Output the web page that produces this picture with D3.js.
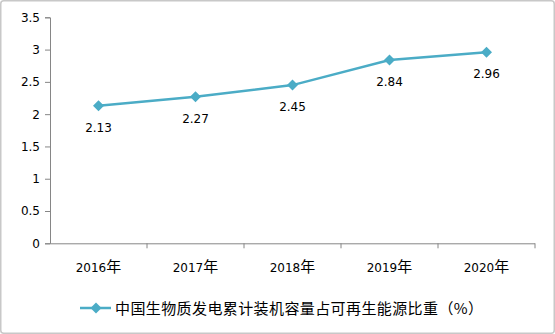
<!DOCTYPE html>
<html><head><meta charset="utf-8">
<script src="https://cdn.jsdelivr.net/npm/d3@7"></script>
<style>body{margin:0;background:#fff}svg{display:block}</style>
</head><body><svg width="555" height="334"></svg>
<script>
const categories = ["2016年","2017年","2018年","2019年","2020年"];
const values = [2.13,2.27,2.45,2.84,2.96];
const yTicks = [0,0.5,1,1.5,2,2.5,3,3.5];
const seriesName = "中国生物质发电累计装机容量占可再生能源比重（%）";

const svg = d3.select("svg");
const numFont = "'DejaVu Sans', sans-serif";
const cjkFont = "'Noto Sans CJK SC', sans-serif";
const color = "#4bacc6";
svg.append("rect").attr("x",0.75).attr("y",0.75).attr("width",553.5).attr("height",332.5)
  .attr("fill","#fff").attr("stroke","#c8c8c8").attr("stroke-width",1.5).attr("rx",3);

const x = d3.scaleBand().domain(categories).range([50,535]);
const y = d3.scaleLinear().domain([0,3.5]).range([243.3,17.3]);

const yAxis = svg.append("g").attr("transform","translate(50,0)")
  .call(d3.axisLeft(y).tickValues(yTicks).tickSize(5).tickPadding(5).tickFormat(d=>String(d)));
const xAxis = svg.append("g").attr("transform","translate(0,243.3)")
  .call(d3.axisBottom(x).tickSize(0).tickPadding(20));
xAxis.selectAll(".bt").data(categories).enter().append("line")
  .attr("x1",d=>x(d)+x.bandwidth()).attr("x2",d=>x(d)+x.bandwidth())
  .attr("y1",0).attr("y2",5).attr("stroke","#868686");
[yAxis,xAxis].forEach(g=>{
  g.selectAll("path.domain,line").attr("stroke","#868686");
  g.selectAll("text").attr("font-family",numFont).attr("font-size",12).attr("fill","#000");
});
xAxis.select(".domain").attr("d","M50.5,0.5H535");
xAxis.selectAll(".tick text").each(function(d){
  const t = d3.select(this).text("");
  t.append("tspan").text(d.replace("年",""));
  t.append("tspan").attr("font-family",cjkFont).attr("font-size",15).text("年");
});

const diamond = "M0,-5.5L5.5,0L0,5.5L-5.5,0Z";
const line = d3.line().x((d,i)=>x(categories[i])+x.bandwidth()/2).y(d=>y(d));
svg.append("path").datum(values).attr("d",line).attr("fill","none")
  .attr("stroke",color).attr("stroke-width",2.5);
svg.selectAll(".m").data(values).enter().append("path")
  .attr("d",diamond)
  .attr("transform",(d,i)=>`translate(${x(categories[i])+x.bandwidth()/2},${y(d)})`)
  .attr("fill",color);
svg.selectAll(".lbl").data(values).enter().append("text")
  .attr("x",(d,i)=>x(categories[i])+x.bandwidth()/2)
  .attr("y",d=>y(d)+26)
  .attr("text-anchor","middle").attr("font-family",numFont).attr("font-size",12)
  .text(d=>d.toFixed(2));

const lg = svg.append("g").attr("transform","translate(0,308)");
lg.append("line").attr("x1",80).attr("x2",111).attr("y1",0).attr("y2",0)
  .attr("stroke",color).attr("stroke-width",2.5);
lg.append("path").attr("d",diamond).attr("transform","translate(96,0)").attr("fill",color);
lg.append("text").attr("x",115).attr("y",5.5).attr("font-family",cjkFont).attr("font-size",15)
  .attr("letter-spacing",0.4).attr("fill","#000").text(seriesName);
</script></body></html>
